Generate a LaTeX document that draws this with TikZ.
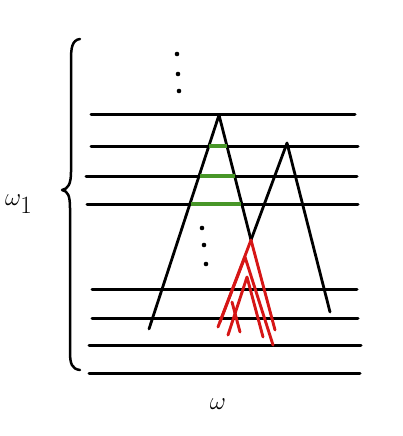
\documentclass[tikz,border=0pt]{standalone}
\begin{document}
\begin{tikzpicture}[x=1pt,y=-1pt,
  hline/.style={line width=3pt,line cap=round},
  leg/.style={line width=2.8pt,line cap=round,line join=round},
  redleg/.style={line width=2.9pt,line cap=round,line join=round,draw=redc},
  greenseg/.style={line width=3.6pt,draw=greenc},
  dotmark/.style={circle,fill=black,inner sep=0pt,minimum size=4.6pt},
  brace/.style={line width=2.5pt,line cap=round,line join=round},
  lab/.style={inner sep=0pt,font=\fontsize{33}{38}\selectfont}
]
\definecolor{redc}{RGB}{214,22,22}
\definecolor{greenc}{RGB}{72,150,40}
\useasboundingbox (0,0) rectangle (402,436);
% horizontal lines
\draw[hline] (91,114) -- (355,114);
\draw[hline] (91,146) -- (358,146);
\draw[hline] (86,176) -- (357,176);
\draw[hline] (87,204) -- (358,204);
\draw[hline] (92,289) -- (357,289);
\draw[hline] (92,318) -- (358,318);
\draw[hline] (89,345) -- (361,345);
\draw[hline] (89,373) -- (360,373);
% triangles
\draw[leg] (149,329) -- (219,115) -- (251,240);
\draw[leg] (330,312) -- (287,143) -- (251,240);
% red branches
\draw[redleg] (251,240) -- (275,330);
\draw[redleg] (251,240) -- (218,327);
\draw[redleg] (220,322) -- (245,257) -- (273,345);
\draw[redleg] (228,335) -- (247,277) -- (263,337);
\draw[redleg] (232,302) -- (240,332);
% green segments
\draw[greenseg] (209,146) -- (227,146);
\draw[greenseg] (200,176) -- (235,176);
\draw[greenseg] (191,204) -- (241,204);
% dots
\node[dotmark] (d1) at (177,54) {};
\node[dotmark] (d2) at (178,74) {};
\node[dotmark] (d3) at (179,91) {};
\node[dotmark] (d4) at (202,228) {};
\node[dotmark] (d5) at (204,245) {};
\node[dotmark] (d6) at (206,264) {};
% brace
\draw[brace] (80,39) .. controls (72,40) and (71,48) .. (71,60) -- (71,172)
  .. controls (71,184) and (68,189) .. (62,190)
  .. controls (68,191) and (70,196) .. (70,208) -- (70,352)
  .. controls (70,364) and (72,369) .. (80,370);
% labels
\node[lab,anchor=west] (w1) at (5,204) {$\omega_{1}$};
\node[lab] (w) at (218,404) {$\omega$};
\end{tikzpicture}
\end{document}
